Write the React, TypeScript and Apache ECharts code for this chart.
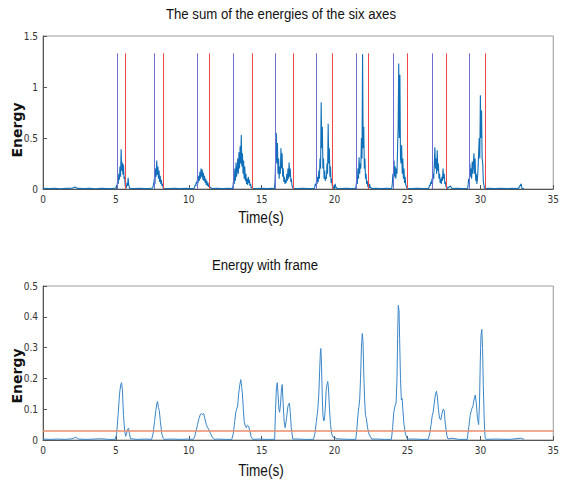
import React, { useEffect, useRef } from "react";
import * as echarts from "echarts";

// ---------- data ----------
const xTicks = [0, 5, 10, 15, 20, 25, 30, 35];
const topYTicks = [0, 0.5, 1, 1.5];
const bottomYTicks = [0, 0.1, 0.2, 0.3, 0.4, 0.5];

// start (blue) and end (red) marks of each movement, seconds
const startTimes = [5.08, 7.63, 10.6, 13.03, 15.93, 18.74, 21.5, 24.0, 26.67, 29.21];
const endTimes = [5.66, 8.25, 11.4, 14.32, 17.15, 19.87, 22.28, 24.97, 27.69, 30.34];
const markHeight = 1.33;

// raw energy: bursts sampled every 0.04 s from the given start
const burstStep = 0.04;
const burstStarts = [5.0, 7.52, 10.36, 13.0, 15.88, 18.6, 21.44, 23.92, 26.44, 29.12];
const burst1 = [0.01, 0.03, 0.02, 0.08, 0.05, 0.15, 0.09, 0.22, 0.12, 0.39, 0.18, 0.26, 0.14, 0.24, 0.1, 0.12, 0.03, 0.02, 0.01, 0.06, 0.03, 0.11, 0.04, 0.02, 0.005];
const burst2 = [0.01, 0.03, 0.06, 0.1, 0.05, 0.2, 0.12, 0.28, 0.14, 0.22, 0.1, 0.18, 0.07, 0.13, 0.05, 0.09, 0.03, 0.05, 0.01, 0.005];
const burst3 = [0.005, 0.02, 0.04, 0.03, 0.07, 0.05, 0.1, 0.06, 0.13, 0.08, 0.17, 0.1, 0.2, 0.12, 0.19, 0.09, 0.16, 0.08, 0.13, 0.06, 0.1, 0.04, 0.08, 0.03, 0.06, 0.02, 0.04, 0.015, 0.02, 0.01, 0.005];
const burst4 = [0.005, 0.04, 0.1, 0.05, 0.2, 0.08, 0.26, 0.12, 0.18, 0.3, 0.15, 0.36, 0.2, 0.42, 0.25, 0.53, 0.22, 0.35, 0.15, 0.28, 0.1, 0.22, 0.08, 0.15, 0.05, 0.1, 0.04, 0.12, 0.06, 0.09, 0.03, 0.05, 0.01, 0.02, 0.005];
const burst5 = [0.005, 0.1, 0.3, 0.55, 0.25, 0.45, 0.15, 0.3, 0.1, 0.22, 0.15, 0.4, 0.2, 0.35, 0.12, 0.2, 0.07, 0.12, 0.05, 0.09, 0.06, 0.15, 0.08, 0.2, 0.1, 0.26, 0.12, 0.2, 0.07, 0.1, 0.03, 0.02, 0.005];
const burst6 = [0.005, 0.02, 0.05, 0.03, 0.08, 0.05, 0.12, 0.07, 0.18, 0.1, 0.3, 0.2, 0.85, 0.4, 0.61, 0.2, 0.3, 0.1, 0.18, 0.08, 0.12, 0.1, 0.25, 0.15, 0.64, 0.25, 0.4, 0.12, 0.22, 0.06, 0.1, 0.03, 0.04, 0.01, 0.005, 0.02, 0.05, 0.01, 0.02, 0.005];
const burst7 = [0.005, 0.03, 0.1, 0.05, 0.2, 0.1, 0.31, 0.15, 0.25, 0.2, 0.5, 0.3, 1.32, 0.4, 0.61, 0.2, 0.3, 0.1, 0.15, 0.05, 0.08, 0.02, 0.04, 0.01, 0.05, 0.01, 0.02, 0.005];
const burst8 = [0.005, 0.05, 0.15, 0.08, 0.28, 0.12, 0.22, 0.1, 0.2, 0.15, 0.4, 0.6, 1.23, 0.5, 1.12, 0.3, 0.25, 0.43, 0.15, 0.3, 0.1, 0.2, 0.06, 0.12, 0.04, 0.03, 0.01, 0.005];
const burst9 = [0.005, 0.02, 0.04, 0.03, 0.07, 0.05, 0.1, 0.06, 0.15, 0.1, 0.25, 0.41, 0.2, 0.3, 0.15, 0.38, 0.18, 0.25, 0.1, 0.15, 0.06, 0.1, 0.05, 0.12, 0.08, 0.2, 0.1, 0.15, 0.05, 0.07, 0.02, 0.03, 0.005];
const burst10 = [0.005, 0.04, 0.1, 0.06, 0.25, 0.12, 0.2, 0.1, 0.27, 0.15, 0.25, 0.35, 0.15, 0.3, 0.08, 0.15, 0.05, 0.1, 0.2, 0.35, 0.5, 0.3, 0.92, 0.5, 0.77, 0.3, 0.25, 0.08, 0.04, 0.01, 0.005];

// raw energy between movements [time, value]
const quietTop: [number, number][] = [
  [0, 0.008], [0.4, 0.004], [0.8, 0.007], [1.2, 0.003], [1.6, 0.006], [2.0, 0.008], [2.2, 0.02], [2.35, 0.006],
  [2.8, 0.004], [3.2, 0.007], [3.6, 0.003], [4.0, 0.006], [4.4, 0.004], [4.8, 0.006], [6.2, 0.005], [6.6, 0.008],
  [7.0, 0.004], [7.3, 0.006], [8.6, 0.005], [9.0, 0.007], [9.4, 0.004], [9.8, 0.006], [10.1, 0.004], [11.9, 0.006],
  [12.3, 0.004], [12.7, 0.007], [14.6, 0.005], [15.0, 0.007], [15.4, 0.004], [15.7, 0.006], [17.4, 0.005],
  [17.8, 0.007], [18.2, 0.004], [20.4, 0.005], [20.8, 0.006], [21.2, 0.004], [22.8, 0.006], [23.2, 0.004],
  [23.6, 0.007], [25.3, 0.005], [25.7, 0.007], [26.1, 0.004], [27.95, 0.03], [28.05, 0.005], [28.4, 0.006],
  [28.8, 0.004], [30.6, 0.006], [31.0, 0.004], [31.4, 0.007], [31.8, 0.005], [32.2, 0.006], [32.6, 0.004],
  [32.8, 0.05], [32.85, 0.005], [33.0, 0.004],
];

// framed (smoothed) energy [time, value]
const frameQuiet: [number, number][] = [
  [0, 0.003], [0.5, 0.002], [1, 0.003], [1.5, 0.002], [2.0, 0.004], [2.24, 0.009], [2.45, 0.003], [3, 0.002],
  [3.5, 0.003], [4.0, 0.004], [4.5, 0.002], [6.5, 0.002], [7, 0.003], [8.8, 0.003], [9.5, 0.002], [9.9, 0.003],
  [12, 0.003], [12.5, 0.002], [14.8, 0.003], [15.3, 0.002], [17.5, 0.003], [18, 0.002], [20.5, 0.003], [21, 0.002],
  [22.9, 0.003], [23.4, 0.002], [25.5, 0.003], [26, 0.002], [28.05, 0.006], [28.5, 0.002], [31, 0.003], [32, 0.002],
  [32.8, 0.006], [33, 0.002],
];
const framePeak1: [number, number][] = [[4.95, 0.002], [5.05, 0.02], [5.15, 0.08], [5.25, 0.15], [5.33, 0.18], [5.39, 0.186], [5.45, 0.16], [5.52, 0.08], [5.6, 0.03], [5.67, 0.012], [5.73, 0.02], [5.8, 0.035], [5.87, 0.038], [5.93, 0.02], [6.0, 0.004]];
const framePeak2: [number, number][] = [[7.45, 0.002], [7.55, 0.02], [7.65, 0.06], [7.75, 0.1], [7.82, 0.12], [7.86, 0.125], [7.92, 0.105], [7.98, 0.095], [8.05, 0.06], [8.15, 0.02], [8.25, 0.005], [8.3, 0.002]];
const framePeak3: [number, number][] = [[10.3, 0.002], [10.4, 0.01], [10.5, 0.03], [10.6, 0.05], [10.7, 0.07], [10.8, 0.084], [10.85, 0.086], [10.95, 0.083], [11.02, 0.086], [11.1, 0.07], [11.2, 0.05], [11.3, 0.04], [11.4, 0.03], [11.5, 0.02], [11.6, 0.01], [11.7, 0.004], [11.8, 0.002]];
const framePeak4: [number, number][] = [[12.95, 0.002], [13.05, 0.02], [13.15, 0.06], [13.22, 0.09], [13.28, 0.1], [13.35, 0.11], [13.42, 0.15], [13.5, 0.18], [13.57, 0.196], [13.63, 0.17], [13.68, 0.15], [13.74, 0.1], [13.8, 0.06], [13.88, 0.045], [13.95, 0.04], [14.02, 0.048], [14.1, 0.045], [14.18, 0.03], [14.28, 0.01], [14.4, 0.002]];
const framePeak5: [number, number][] = [[15.89, 0.002], [15.95, 0.1], [16.01, 0.17], [16.07, 0.186], [16.12, 0.15], [16.18, 0.1], [16.23, 0.09], [16.3, 0.12], [16.36, 0.17], [16.41, 0.18], [16.47, 0.12], [16.54, 0.06], [16.61, 0.04], [16.7, 0.07], [16.8, 0.11], [16.9, 0.12], [16.96, 0.09], [17.03, 0.04], [17.13, 0.003]];
const framePeak6: [number, number][] = [[18.55, 0.002], [18.65, 0.02], [18.75, 0.06], [18.85, 0.1], [18.92, 0.15], [18.98, 0.23], [19.03, 0.29], [19.06, 0.297], [19.1, 0.25], [19.15, 0.15], [19.2, 0.08], [19.25, 0.062], [19.3, 0.065], [19.36, 0.1], [19.42, 0.16], [19.48, 0.18], [19.53, 0.19], [19.58, 0.17], [19.65, 0.1], [19.72, 0.05], [19.8, 0.02], [19.9, 0.008], [20.0, 0.01], [20.1, 0.004]];
const framePeak7: [number, number][] = [[21.45, 0.002], [21.52, 0.03], [21.6, 0.08], [21.66, 0.105], [21.72, 0.13], [21.78, 0.2], [21.84, 0.3], [21.9, 0.346], [21.95, 0.32], [22.0, 0.22], [22.06, 0.13], [22.12, 0.08], [22.18, 0.07], [22.26, 0.04], [22.36, 0.02], [22.46, 0.01], [22.56, 0.003]];
const framePeak8: [number, number][] = [[23.9, 0.002], [23.98, 0.04], [24.06, 0.09], [24.14, 0.11], [24.22, 0.12], [24.28, 0.2], [24.33, 0.35], [24.37, 0.437], [24.42, 0.42], [24.46, 0.33], [24.52, 0.2], [24.58, 0.13], [24.63, 0.135], [24.68, 0.1], [24.76, 0.05], [24.86, 0.02], [24.99, 0.003]];
const framePeak9: [number, number][] = [[26.42, 0.002], [26.52, 0.02], [26.62, 0.05], [26.7, 0.08], [26.76, 0.09], [26.84, 0.12], [26.92, 0.15], [26.99, 0.158], [27.05, 0.14], [27.12, 0.1], [27.2, 0.07], [27.28, 0.065], [27.36, 0.085], [27.45, 0.1], [27.52, 0.095], [27.6, 0.05], [27.7, 0.015], [27.78, 0.003]];
const framePeak10: [number, number][] = [[29.1, 0.002], [29.2, 0.04], [29.3, 0.08], [29.4, 0.1], [29.49, 0.11], [29.56, 0.13], [29.65, 0.146], [29.72, 0.12], [29.8, 0.07], [29.88, 0.05], [29.94, 0.12], [29.99, 0.25], [30.04, 0.34], [30.1, 0.359], [30.15, 0.3], [30.2, 0.18], [30.26, 0.07], [30.32, 0.01], [30.4, 0.002]];
const threshold = 0.03;

// ---------- build ----------
const bursts = [burst1, burst2, burst3, burst4, burst5, burst6, burst7, burst8, burst9, burst10];
const topData: [number, number][] = [...quietTop];
bursts.forEach((b, i) => {
  b.forEach((v, j) => topData.push([+(burstStarts[i] + j * burstStep).toFixed(3), v]));
});
topData.sort((a, b) => a[0] - b[0]);

const frameData: [number, number][] = [
  ...frameQuiet, ...framePeak1, ...framePeak2, ...framePeak3, ...framePeak4, ...framePeak5,
  ...framePeak6, ...framePeak7, ...framePeak8, ...framePeak9, ...framePeak10,
].sort((a, b) => a[0] - b[0]);

const BLUE_MARK = "#6e6ed6";
const RED_MARK = "#f04848";
const tickFont = "'Liberation Sans Narrow', 'DejaVu Sans Condensed', 'Liberation Sans', sans-serif";
const titleFont = "'Liberation Sans', Arial, sans-serif";

const markSeries = (name: string, times: number[], color: string) => ({
  name,
  type: "line" as const,
  xAxisIndex: 0,
  yAxisIndex: 0,
  data: [] as number[][],
  symbol: "none",
  lineStyle: { color, width: 1 },
  itemStyle: { color },
  markLine: {
    silent: true,
    symbol: ["none", "none"],
    label: { show: false },
    lineStyle: { type: "solid", width: 1, color },
    data: times.map((t) => [{ coord: [t, 0] }, { coord: [t, markHeight] }]),
  },
});

const xAxisBase = (gridIndex: number) => ({
  type: "value" as const,
  gridIndex,
  min: xTicks[0],
  max: xTicks[xTicks.length - 1],
  interval: 5,
  axisLine: { show: true, onZero: false, lineStyle: { color: "#555", width: 1 } },
  axisTick: { show: true, inside: true, length: 4, lineStyle: { color: "#555" } },
  axisLabel: { color: "#333", fontSize: 10, fontFamily: tickFont, margin: 5 },
  splitLine: { show: false },
});

const yAxisBase = (gridIndex: number, ticks: number[]) => ({
  type: "value" as const,
  gridIndex,
  min: ticks[0],
  max: ticks[ticks.length - 1],
  interval: +(ticks[1] - ticks[0]).toFixed(3),
  axisLine: { show: true, lineStyle: { color: "#555", width: 1 } },
  axisTick: { show: true, inside: true, length: 4, lineStyle: { color: "#555" } },
  axisLabel: { color: "#333", fontSize: 10, fontFamily: tickFont, margin: 5 },
  splitLine: { show: false },
});

const textEl = (text: string, x: number, y: number, size: number, scaleX: number, extra: any = {}) => ({
  type: "text",
  x,
  y,
  scaleX,
  silent: true,
  style: {
    text,
    fill: "#111",
    fontSize: size,
    fontFamily: titleFont,
    textAlign: "center",
    textVerticalAlign: "middle",
    ...extra,
  },
});

const energyLabel = (y: number) => ({
  type: "text",
  x: 17,
  y,
  rotation: Math.PI / 2,
  silent: true,
  style: {
    text: "Energy",
    fill: "#111",
    fontSize: 14,
    fontWeight: "bold",
    fontFamily: "'DejaVu Sans', sans-serif",
    textAlign: "center",
    textVerticalAlign: "middle",
  },
});

export default function App() {
  const ref = useRef<HTMLDivElement>(null);
  useEffect(() => {
    if (!ref.current) return;
    const chart = echarts.init(ref.current, null, { renderer: "svg" });
    chart.setOption({
      animation: false,
      backgroundColor: "#fff",
      grid: [
        { left: 43, top: 36, width: 515, height: 153, show: true, borderColor: "#999", borderWidth: 1, backgroundColor: "transparent" },
        { left: 43, top: 286, width: 515, height: 154, show: true, borderColor: "#999", borderWidth: 1, backgroundColor: "transparent" },
      ],
      xAxis: [xAxisBase(0), xAxisBase(1)],
      yAxis: [yAxisBase(0, topYTicks), yAxisBase(1, bottomYTicks)],
      series: [
        {
          name: "energy sum",
          type: "line",
          xAxisIndex: 0,
          yAxisIndex: 0,
          data: topData,
          showSymbol: false,
          symbol: "none",
          lineStyle: { color: "#0f6fb8", width: 1.1 },
          z: 2,
        },
        markSeries("start", startTimes, BLUE_MARK),
        markSeries("end", endTimes, RED_MARK),
        {
          name: "energy with frame",
          type: "line",
          xAxisIndex: 1,
          yAxisIndex: 1,
          data: frameData,
          showSymbol: false,
          symbol: "none",
          lineStyle: { color: "#3a86c8", width: 1 },
          markLine: {
            silent: true,
            symbol: ["none", "none"],
            label: { show: false },
            lineStyle: { type: "solid", width: 1.5, color: "#ec8c6c" },
            data: [{ yAxis: threshold }],
          },
        },
      ],
      graphic: [
        textEl("The sum of the energies of the six axes", 281, 14, 15, 0.88),
        textEl("Time(s)", 261, 218, 16, 0.85),
        textEl("Energy with frame", 265, 265, 15, 0.88),
        textEl("Time(s)", 261, 471, 16, 0.85),
        energyLabel(130),
        energyLabel(376),
      ],
    });
    return () => chart.dispose();
  }, []);
  return (
    <div
      ref={ref}
      style={{ position: "absolute", left: 0, top: 0, width: 562, height: 487, background: "#fff" }}
    />
  );
}
